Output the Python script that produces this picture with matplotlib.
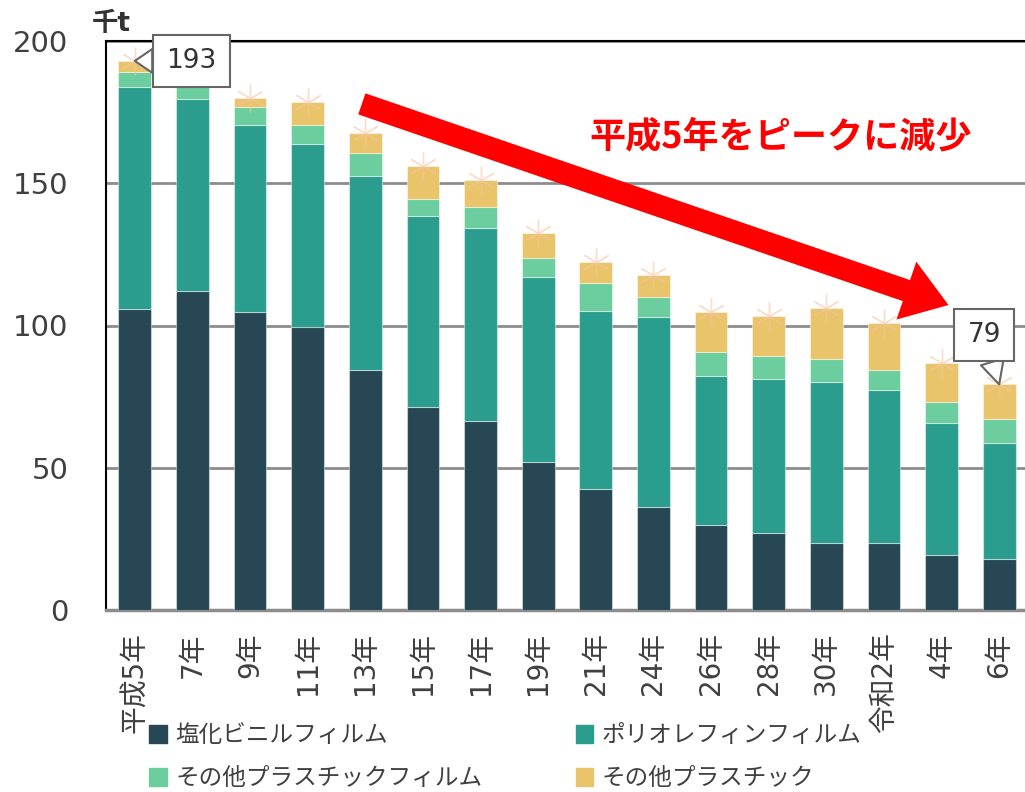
import matplotlib
matplotlib.use("Agg")
import matplotlib.pyplot as plt
from matplotlib.patches import Patch
import numpy as np

plt.rcParams['font.family'] = ['DejaVu Sans', 'Noto Sans CJK JP']

categories = ["平成5年", "7年", "9年", "11年", "13年", "15年", "17年", "19年",
              "21年", "24年", "26年", "28年", "30年", "令和2年", "4年", "6年"]
pvc_film = [105.7, 112.1, 104.6, 99.6, 84.2, 71.2, 66.5, 52.1,
            42.4, 36.3, 29.9, 27.2, 23.7, 23.7, 19.3, 17.8]
polyolefin_film = [78.1, 67.6, 66.0, 64.3, 68.3, 67.4, 67.9, 64.8,
                   62.8, 66.7, 52.5, 54.1, 56.3, 53.7, 46.3, 40.9]
other_plastic_film = [5.3, 6.0, 6.2, 6.7, 8.2, 5.7, 7.1, 7.0,
                      9.7, 6.9, 8.4, 8.1, 8.2, 7.1, 7.5, 8.3]
other_plastic = [3.9, 3.3, 3.3, 8.1, 7.0, 11.9, 9.5, 8.6,
                 7.5, 7.7, 13.9, 14.0, 18.0, 16.5, 13.6, 12.3]
series_names = ["塩化ビニルフィルム", "ポリオレフィンフィルム",
                "その他プラスチックフィルム", "その他プラスチック"]
colors = ["#264753", "#2a9d8f", "#6ccd9e", "#e9c46a"]

series = [pvc_film, polyolefin_film, other_plastic_film, other_plastic]

fig = plt.figure(figsize=(10.25, 7.92), dpi=100)
ax = fig.add_axes([106/1025, 1-610/792, 922/1025, (610-41)/792])

x = np.arange(len(categories))
bottom = np.zeros(len(categories))
for vals, c, name in zip(series, colors, series_names):
    ax.bar(x, vals, 0.57, bottom=bottom, color=c, label=name,
           edgecolor=(1, 1, 1, 0.45), linewidth=0.8, zorder=3)
    bottom = bottom + np.array(vals)
totals = bottom

ax.plot(x, totals, linestyle='none', marker=(6, 2, 0), markersize=20,
        markeredgecolor='#f7c4a3', markeredgewidth=1.0, alpha=0.55, zorder=4)

ax.set_xlim(-0.5, 15.5)
ax.set_ylim(0, 200)
ax.set_yticks([0, 50, 100, 150, 200])
ax.yaxis.grid(True, color='#8c8c8c', linewidth=2, zorder=0)
ax.set_axisbelow(True)
ax.tick_params(axis='y', length=0, pad=27, labelsize=21, labelcolor='#404040')
ax.set_xticks(x)
ax.set_xticklabels(categories, rotation=90, fontsize=20, color='#404040',
                   va='top', ha='center')
ax.tick_params(axis='x', length=0, pad=16)
for s in ['left', 'top', 'right']:
    ax.spines[s].set_color('black')
    ax.spines[s].set_linewidth(1.5)
ax.spines['bottom'].set_color('#8c8c8c')
ax.spines['bottom'].set_linewidth(2.5)

# unit label
fig.text(111/1025, 1-24/792, "千t", fontsize=19, fontweight='bold',
         color='#333333', ha='center', va='center')

# callouts
ax.annotate(f"{totals[0]:.0f}", xy=(0, totals[0]), xytext=(0.98, totals[0]),
            fontsize=19, color='#333333', ha='center', va='center', zorder=6,
            bbox=dict(boxstyle='square,pad=0.5', fc='white', ec='#666666', lw=1.5),
            arrowprops=dict(arrowstyle='wedge,tail_width=0.9', fc='white',
                            ec='#666666', lw=1.5, shrinkA=0, shrinkB=0))
ax.annotate(f"{totals[-1]:.0f}", xy=(15, totals[-1]), xytext=(14.74, 96.7),
            fontsize=19, color='#333333', ha='center', va='center', zorder=6,
            bbox=dict(boxstyle='square,pad=0.5', fc='white', ec='#666666', lw=1.5),
            arrowprops=dict(arrowstyle='wedge,tail_width=0.9', fc='white',
                            ec='#666666', lw=1.5, shrinkA=0, shrinkB=0))

# big red arrow
ax.annotate("", xy=(14.12, 107.2), xytext=(3.94, 177.9),
            arrowprops=dict(arrowstyle='simple,head_length=32,head_width=44,tail_width=16',
                            mutation_scale=1, fc='#ff0000', ec='#ff0000', lw=0,
                            shrinkA=0, shrinkB=0), zorder=5)
ax.text(11.2, 166.3, "平成5年をピークに減少", fontsize=26, fontweight='bold',
        color='#ff0000', ha='center', va='center', zorder=6,
        family=['Noto Sans CJK JP'])

handles = [Patch(color=c) for c in colors]
order = [0, 2, 1, 3]
fig.legend([handles[i] for i in order], [series_names[i] for i in order],
           ncol=2, loc='upper left', bbox_to_anchor=(128/1025, 1-702/792),
           frameon=False, fontsize=17, handlelength=0.75, handleheight=0.75,
           handletextpad=0.35, columnspacing=3.95, labelspacing=0.8,
           labelcolor='#404040')

fig.savefig("out.png", dpi=100)
